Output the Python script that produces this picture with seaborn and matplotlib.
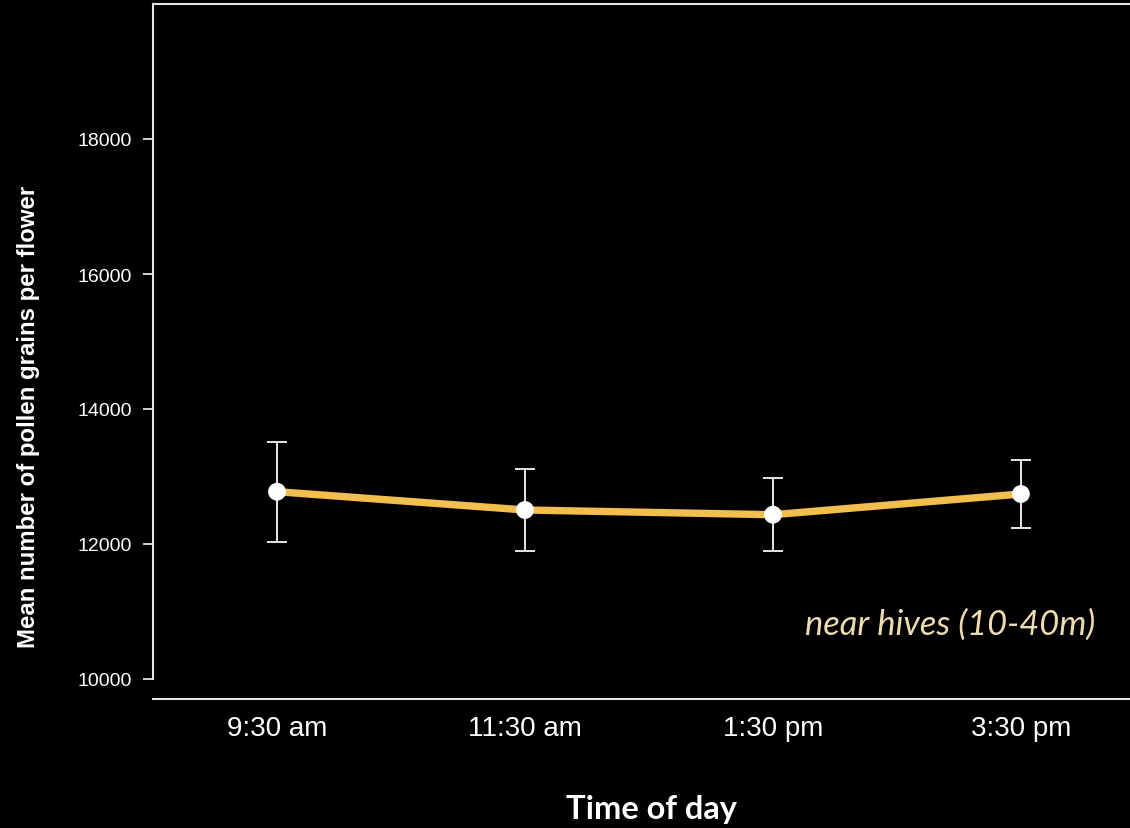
import numpy as np
import pandas as pd
import matplotlib
matplotlib.use("Agg")
import matplotlib.pyplot as plt
import seaborn as sns

# Pollen counts per flower near the hives, by time of day
times = ["9:30 am", "11:30 am", "1:30 pm", "3:30 pm"]
mean_pollen = [12775, 12504, 12434, 12741]
err_pollen = [740, 612, 543, 510]
y_ticks = [10000, 12000, 14000, 16000, 18000]

df = pd.DataFrame({
    "pos": np.arange(len(times)),
    "time": times,
    "mean": mean_pollen,
    "err": err_pollen,
})

sns.set_theme(style="dark")
plt.rcParams["font.family"] = ["Liberation Sans", "DejaVu Sans"]

fg = "#e6e6e6"
fig = plt.figure(figsize=(11.3, 8.29), dpi=100, facecolor="black")
ax = fig.add_axes([153 / 1130, 1 - 680 / 829, 1 - 153 / 1130, 675 / 829])
ax.set_facecolor("black")
ax.grid(False)

ax.errorbar(df["pos"], df["mean"], yerr=df["err"], fmt="none",
            ecolor=fg, elinewidth=1.4, capsize=7.2, capthick=1.4, zorder=2)
sns.lineplot(data=df, x="pos", y="mean", color="#F2BF4E", linewidth=5.3,
             sort=False, ax=ax, zorder=3)
sns.scatterplot(data=df, x="pos", y="mean", color="white", s=165,
                edgecolor="none", linewidth=0, ax=ax, zorder=5)

ax.set_xlim(-0.5, 3.44)
ax.set_ylim(10000, 20000)
ax.set_yticks(y_ticks)
ax.set_yticklabels([str(v) for v in y_ticks])
ax.set_xticks(df["pos"])
ax.set_xticklabels(times)

ax.tick_params(axis="y", colors=fg, labelcolor="white", labelsize=14,
               length=7.2, width=1.3, pad=8, left=True, direction="out")
ax.tick_params(axis="x", labelcolor="white", labelsize=20, length=0, pad=11.5)

for side in ["left", "top", "bottom"]:
    ax.spines[side].set_visible(True)
    ax.spines[side].set_color(fg)
    ax.spines[side].set_linewidth(1.5)
ax.spines["right"].set_visible(False)
ax.spines["bottom"].set_position(("outward", 14.4))

ax.set_ylabel("Mean number of pollen grains per flower", fontsize=17.3,
              fontweight="bold", color="white", va="center")
ax.yaxis.set_label_coords((29 - 153) / 977, (680 - 417) / 675)
ax.set_xlabel("Time of day", fontsize=23.5, fontweight="bold", color="white",
              family=["Lato", "DejaVu Sans"], va="center")
ax.xaxis.set_label_coords((651 - 153) / 977, (680 - 810) / 675)

ax.text((1095 - 153) / 977, (680 - 625) / 675, "near hives (10-40m)",
        transform=ax.transAxes, ha="right", va="center", fontsize=24.8,
        fontstyle="italic", color="#EEDCB0", family=["Lato", "DejaVu Sans"])

fig.savefig("out.png", dpi=100, facecolor="black")
